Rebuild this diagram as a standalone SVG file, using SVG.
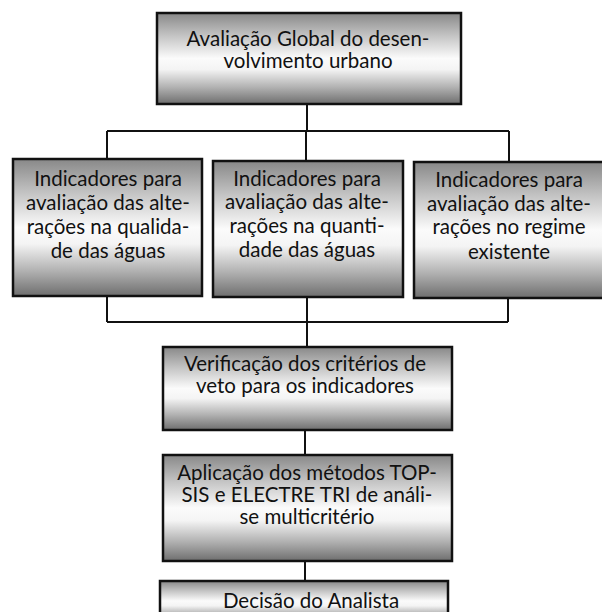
<svg xmlns="http://www.w3.org/2000/svg" width="602" height="612" viewBox="0 0 602 612">
<defs>
<linearGradient id="g" x1="0" y1="0" x2="0" y2="1">
<stop offset="0" stop-color="#888888"/>
<stop offset="0.25" stop-color="#c4c4c4"/>
<stop offset="0.5" stop-color="#fbfbfb"/>
<stop offset="0.62" stop-color="#f4f4f4"/>
<stop offset="0.82" stop-color="#b0b0b0"/>
<stop offset="1" stop-color="#6e6e6e"/>
</linearGradient>
</defs>
<style>
.box{fill:url(#g);stroke:#111;stroke-width:2.5}
.t{font-family:Lato,"Liberation Sans",sans-serif;font-size:20.5px;fill:#111;text-anchor:middle}
.c{fill:none;stroke:#111;stroke-width:2}
</style>
<rect width="602" height="612" fill="#fff"/>
<g id="connectors">
<path class="c" d="M307 104V131M107 131H509M107 131V159M306 131V161M509 131V162"/>
<path class="c" d="M107 296V322M508 298V322M107 322H508M307 297V347"/>
<path class="c" d="M305 430V455M305 561V581"/>
</g>
<g id="n1">
<rect class="box" x="157" y="13" width="304" height="91"/>
<text class="t" x="308" y="46">Avaliação Global do desen-</text>
<text class="t" x="308" y="68">volvimento urbano</text>
</g>
<g id="n2">
<rect class="box" x="13" y="159" width="189" height="137"/>
<text class="t" x="108" y="186">Indicadores para</text>
<text class="t" x="108" y="210">avaliação das alte-</text>
<text class="t" x="108" y="234">rações na qualida-</text>
<text class="t" x="108" y="258">de das águas</text>
</g>
<g id="n3">
<rect class="box" x="213" y="161" width="190" height="136"/>
<text class="t" x="307" y="186">Indicadores para</text>
<text class="t" x="307" y="209">avaliação das alte-</text>
<text class="t" x="307" y="233">rações na quanti-</text>
<text class="t" x="307" y="257">dade das águas</text>
</g>
<g id="n4">
<rect class="box" x="414" y="162" width="190" height="136"/>
<text class="t" x="509" y="187">Indicadores para</text>
<text class="t" x="509" y="211">avaliação das alte-</text>
<text class="t" x="509" y="234">rações no regime</text>
<text class="t" x="509" y="259">existente</text>
</g>
<g id="n5">
<rect class="box" x="163" y="347" width="289" height="83"/>
<text class="t" x="305" y="371">Verificação dos critérios de</text>
<text class="t" x="305" y="393">veto para os indicadores</text>
</g>
<g id="n6">
<rect class="box" x="163" y="455" width="289" height="106"/>
<text class="t" x="307" y="480">Aplicação dos métodos TOP-</text>
<text class="t" x="307" y="502">SIS e ELECTRE TRI de análi-</text>
<text class="t" x="307" y="524">se multicritério</text>
</g>
<g id="n7">
<rect class="box" x="160" y="581" width="288" height="40"/>
<text class="t" x="311" y="608">Decisão do Analista</text>
</g>
</svg>
